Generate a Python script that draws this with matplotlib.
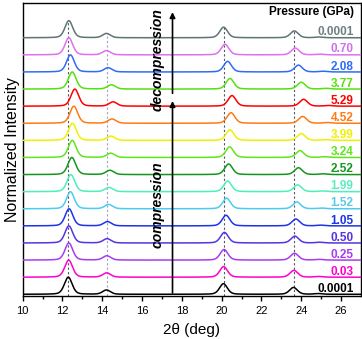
import numpy as np
import matplotlib
matplotlib.use("Agg")
import matplotlib.pyplot as plt

plt.rcParams['font.family'] = ['Liberation Sans', 'DejaVu Sans']

# traces listed bottom -> top (compression, then decompression)
pressures = ["0.0001", "0.03", "0.25", "0.50", "1.05", "1.52", "1.99", "2.52",
             "3.24", "3.99", "4.52", "5.29", "3.77", "2.08", "0.70", "0.0001"]
colors = ["#000000", "#ff00cc", "#a63cf0", "#5634e0", "#1c34e6", "#4ccbf0",
          "#4cf0b8", "#14961e", "#5fe61a", "#f0f000", "#ff7a14", "#ff0000",
          "#55e010", "#2f6cf5", "#e070f0", "#607474"]
label_colors = ["#000000", "#ff00cc", "#a63cf0", "#5634e0", "#1c34e6", "#5cc8ec",
                "#5cecc0", "#14961e", "#5fe61a", "#f0f000", "#ff7a14", "#ff0000",
                "#55e010", "#2f6cf5", "#d070e8", "#708080"]

# peak positions (deg 2theta)
peak1 = [12.29, 12.31, 12.32, 12.32, 12.33, 12.40, 12.42, 12.47,
         12.49, 12.50, 12.57, 12.62, 12.49, 12.40, 12.32, 12.32]
peak2 = [14.21, 14.22, 14.23, 14.24, 14.26, 14.32, 14.34, 14.38,
         14.43, 14.43, 14.49, 14.54, 14.46, 14.29, 14.21, 14.21]
peak3 = [20.09, 20.10, 20.12, 20.14, 20.22, 20.25, 20.30, 20.35,
         20.40, 20.42, 20.47, 20.52, 20.42, 20.30, 20.17, 20.10]
peak4 = [23.61, 23.63, 23.66, 23.68, 23.73, 23.78, 23.82, 23.86,
         23.94, 24.00, 24.07, 24.12, 24.00, 23.86, 23.70, 23.65]
# normalized heights of the four reflections
heights = [1.0, 0.25, 0.62, 0.40]
ref_lines = [12.30, 14.24, 20.10, 23.63]


def profile(x, centers, amps, fwhm=0.46, eta=0.3):
    y = np.zeros_like(x)
    for c, a in zip(centers, amps):
        g = np.exp(-4 * np.log(2) * ((x - c) / fwhm) ** 2)
        l = 1 / (1 + 4 * ((x - c) / fwhm) ** 2)
        y += a * ((1 - eta) * g + eta * l)
    return y


fig = plt.figure(figsize=(3.62, 3.39), dpi=100)
ax = fig.add_axes([0.0627, 0.1268, 0.9343, 0.8642])

x = np.linspace(10, 27, 1500)
n = len(pressures)
for i in range(n):
    centers = [peak1[i], peak2[i], peak3[i], peak4[i], peak4[i] + 1.25]
    amps = heights + [0.04]
    y = profile(x, centers, amps)
    ax.plot(x, y + i, color=colors[i], lw=1.1, zorder=3)
    ax.text(26.63, i + 0.14, pressures[i], color=label_colors[i],
            fontsize=8.5, fontweight='bold', ha='right', va='baseline')

# dotted guide lines at ambient peak positions
top = n - 1
for k, xr in enumerate(ref_lines):
    c = '#a0a0d0' if k == 1 else '#555566'
    ax.plot([xr, xr], [-0.1, top + heights[k]], ls=(0, (2, 2)), lw=0.8,
            color=c, zorder=1)

# compression / decompression arrows
ax.annotate('', xy=(17.53, 11.3), xytext=(17.53, 0.08),
            arrowprops=dict(arrowstyle='-|>', lw=1.2, color='k',
                            mutation_scale=8, shrinkA=0, shrinkB=0))
ax.annotate('', xy=(17.53, 16.5), xytext=(17.53, 11.75),
            arrowprops=dict(arrowstyle='-|>', lw=1.2, color='k',
                            mutation_scale=8, shrinkA=0, shrinkB=0))
ax.text(16.8, 5.22, 'compression', rotation=90, fontsize=10,
        fontweight='bold', style='italic', ha='center', va='center')
ax.text(16.8, 13.73, 'decompression', rotation=90, fontsize=10,
        fontweight='bold', style='italic', ha='center', va='center')

ax.text(26.63, 16.5, 'Pressure (GPa)', fontsize=8.5, fontweight='bold',
        ha='right', va='center')

ax.set_xlim(10, 27)
ax.set_ylim(-0.1, 17.03)
ax.set_xticks(np.arange(10, 27, 2))
ax.set_xticks(np.arange(11, 27, 2), minor=True)
ax.set_yticks([])
ax.tick_params(axis='x', which='major', direction='out', length=3.5,
               width=1, labelsize=8, pad=4)
ax.tick_params(axis='x', which='minor', direction='out', length=2, width=1)
for s in ax.spines.values():
    s.set_linewidth(1)

ax.set_xlabel('2\u03b8 (deg)', fontsize=11, labelpad=5)
ax.set_ylabel('Normalized Intensity', fontsize=11.5, labelpad=2)

fig.savefig('out.png', dpi=100)
